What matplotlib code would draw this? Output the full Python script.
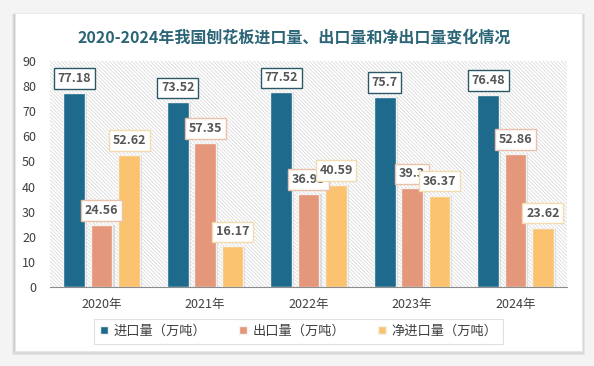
import numpy as np
import matplotlib
matplotlib.use("Agg")
import matplotlib.pyplot as plt
from matplotlib.patches import Rectangle

plt.rcParams["font.family"] = ["Noto Sans CJK SC", "DejaVu Sans"]
plt.rcParams["hatch.linewidth"] = 0.5

# Data
years = ["2020年", "2021年", "2022年", "2023年", "2024年"]
import_vol = [77.18, 73.52, 77.52, 75.7, 76.48]
export_vol = [24.56, 57.35, 36.93, 39.3, 52.86]
net_import = [52.62, 16.17, 40.59, 36.37, 23.62]
value_labels = [
    ["77.18", "73.52", "77.52", "75.7", "76.48"],
    ["24.56", "57.35", "36.93", "39.3", "52.86"],
    ["52.62", "16.17", "40.59", "36.37", "23.62"],
]
series_names = ["进口量（万吨）", "出口量（万吨）", "净进口量（万吨）"]

colors = ["#1d6a8c", "#e4977a", "#fbc36f"]
box_edges = ["#2a5866", "#ecc1ab", "#f3dcae"]

fig = plt.figure(figsize=(5.94, 3.66), dpi=100)
fig.patch.set_facecolor("#f4f4f4")

# white card with soft shadow
for i, a in enumerate([0.05, 0.05, 0.06]):
    d = 0.003 * (i + 1)
    fig.patches.append(Rectangle((0.025 - d / 2, 0.04 - d), 0.955 + d, 0.925 + d / 2,
                                 transform=fig.transFigure, facecolor="#000000",
                                 alpha=a, edgecolor="none", zorder=0))
fig.patches.append(Rectangle((0.025, 0.04), 0.955, 0.925, transform=fig.transFigure,
                             facecolor="white", edgecolor="#e6e6e6", lw=0.6, zorder=1))

ax = fig.add_axes([0.084, 0.216, 0.871, 0.617])
ax.set_facecolor("none")
ax.set_zorder(2)

# hatched plot area
ax.add_patch(Rectangle((0, 0), 1, 1, transform=ax.transAxes, facecolor="white",
                       edgecolor="#d4d4d4", lw=0, hatch="\\" * 9, zorder=0))

x = np.arange(len(years))
width = 0.21
offsets = [-0.265, 0, 0.265]
series = [import_vol, export_vol, net_import]

for k, (vals, off) in enumerate(zip(series, offsets)):
    # soft shadow
    ax.bar(x + off + 0.02, vals, width, color="#c4c4c4", alpha=0.5, zorder=1,
           edgecolor="none")
    ax.bar(x + off, vals, width, color=colors[k], edgecolor="#f2f2f2", lw=1.0,
           zorder=2, label=series_names[k])
    for xi, v, lab in zip(x + off, vals, value_labels[k]):
        ax.annotate(lab, (xi, v), xytext=(0, 10.5), textcoords="offset points",
                    ha="center", va="center", fontsize=9, fontweight="bold",
                    color="#555555", zorder=5,
                    bbox=dict(boxstyle="square,pad=0.3", fc="white",
                              ec=box_edges[k], lw=1.0))

ax.set_xlim(-0.5, 4.5)
ax.set_ylim(0, 90)
ax.set_yticks(range(0, 91, 10))
ax.set_xticks(x)
ax.set_xticklabels(years)
ax.tick_params(axis="both", length=0, labelsize=9, colors="#404040")
ax.tick_params(axis="x", pad=8)
ax.tick_params(axis="y", pad=10)
for s in ["top", "right", "left"]:
    ax.spines[s].set_visible(False)
ax.spines["bottom"].set_color("#8c8c8c")
ax.spines["bottom"].set_linewidth(0.8)

fig.text(0.495, 0.897, "2020-2024年我国刨花板进口量、出口量和净出口量变化情况",
         ha="center", va="center", fontsize=11.5, fontweight="bold", color="#2b6576")

leg = fig.legend(loc="center", bbox_to_anchor=(0.503, 0.095), ncol=3, fontsize=9.5,
                 frameon=True, fancybox=False, handlelength=0.6, handleheight=0.6,
                 handletextpad=0.4, columnspacing=2.5, borderpad=0.45)
leg.get_frame().set_edgecolor("#d9d9d9")
leg.get_frame().set_linewidth(0.8)
for t in leg.get_texts():
    t.set_color("#404040")
leg.set_zorder(3)

fig.savefig("out.png", dpi=100, facecolor=fig.get_facecolor())
